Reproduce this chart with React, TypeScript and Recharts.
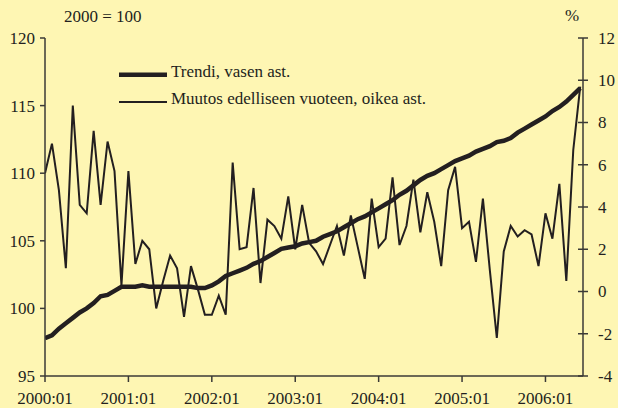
import { LineChart, Line, XAxis, YAxis, Legend } from "recharts"

const trend = [
  97.8, 98.0, 98.5, 98.9, 99.3, 99.7, 100.0, 100.4, 100.9, 101.0, 101.3, 101.6,
  101.6, 101.6, 101.7, 101.6, 101.6, 101.6, 101.6, 101.6, 101.6, 101.6, 101.5, 101.5,
  101.7, 102.0, 102.4, 102.6, 102.8, 103.0, 103.3, 103.5, 103.8, 104.1, 104.4, 104.5,
  104.6, 104.8, 104.9, 105.0, 105.3, 105.5, 105.7, 106.0, 106.3, 106.6, 106.8, 107.1,
  107.4, 107.7, 108.0, 108.4, 108.7, 109.1, 109.5, 109.8, 110.0, 110.3, 110.6, 110.9,
  111.1, 111.3, 111.6, 111.8, 112.0, 112.3, 112.4, 112.6, 113.0, 113.3, 113.6, 113.9,
  114.2, 114.6, 114.9, 115.3, 115.8, 116.3,
]

const change = [
  5.6, 7.0, 4.8, 1.1, 8.8, 4.1, 3.7, 7.6, 4.1, 7.1, 5.7, 0.3,
  5.7, 1.3, 2.4, 2.0, -0.8, 0.5, 1.7, 1.1, -1.2, 1.2, 0.1, -1.1,
  -1.1, -0.2, -1.1, 6.1, 2.0, 2.1, 4.9, 0.4, 3.4, 3.1, 2.5, 4.5,
  2.0, 4.1, 2.3, 1.9, 1.3, 2.2, 3.1, 1.7, 3.6, 2.1, 0.6, 4.4,
  2.1, 2.5, 5.4, 2.2, 3.1, 5.3, 2.8, 4.7, 3.3, 1.2, 4.8, 5.9,
  3.0, 3.3, 1.4, 4.4, 1.0, -2.2, 1.9, 3.1, 2.6, 2.9, 2.7, 1.2,
  3.7, 2.5, 5.1, 0.5, 6.7, 9.7,
]

const yearTicks = [0, 12, 24, 36, 48, 60, 72]
const yearLabels = ["2000:01", "2001:01", "2002:01", "2003:01", "2004:01", "2005:01", "2006:01"]
const leftTicks = [95, 100, 105, 110, 115, 120]
const rightTicks = [-4, -2, 0, 2, 4, 6, 8, 10, 12]

const data = trend.map((t, i) => ({ i, trend: t, change: change[i] }))

const INK = "#231f20"
const AXIS = "#3b3a36"
const BG = "#fef6b3"
const FONT = "'Liberation Serif', 'Times New Roman', serif"

const RightTick = (props: any) => {
  const { x, y, payload } = props
  return (
    <g>
      <line x1={x - 5} x2={x + 5} y1={y} y2={y} stroke={AXIS} strokeWidth={1.5} />
      <text x={x + 15} y={y} dy="0.35em" fontSize={17} fontFamily={FONT} fill={INK}>
        {payload.value}
      </text>
    </g>
  )
}

const renderLegend = () => (
  <svg width={340} height={50}>
    <line x1={0} x2={48} y1={14.7} y2={14.7} stroke={INK} strokeWidth={4.5} />
    <text x={52} y={17} fontSize={17} fontFamily={FONT} fill={INK}>Trendi, vasen ast.</text>
    <line x1={0} x2={48} y1={42} y2={42} stroke={INK} strokeWidth={2} />
    <text x={52} y={44} fontSize={17} fontFamily={FONT} fill={INK}>Muutos edelliseen vuoteen, oikea ast.</text>
  </svg>
)

export default function App() {
  return (
    <div style={{ position: "absolute", left: 0, top: 0, width: 618, height: 408, background: BG }}>
      <LineChart width={618} height={408} data={data} margin={{ top: 38, right: 0, bottom: 0, left: 0 }}>
        <XAxis
          dataKey="i"
          type="number"
          domain={[0, 77.4]}
          ticks={yearTicks}
          tickFormatter={(v: number) => yearLabels[yearTicks.indexOf(v)]}
          height={32}
          tickSize={6}
          tickMargin={10}
          stroke={AXIS}
          strokeWidth={1.5}
          tick={{ fontSize: 17, fontFamily: FONT, fill: INK }}
          allowDataOverflow
        />
        <YAxis
          yAxisId="left"
          domain={[95, 120]}
          ticks={leftTicks}
          width={45}
          tickSize={5}
          tickMargin={5}
          stroke={AXIS}
          strokeWidth={1.5}
          tick={{ fontSize: 17, fontFamily: FONT, fill: INK }}
          label={(p: any) => (
            <text x={64} y={22} fontSize={17} fontFamily={FONT} fill={INK}>2000 = 100</text>
          )}
        />
        <YAxis
          yAxisId="right"
          orientation="right"
          domain={[-4, 12]}
          ticks={rightTicks}
          width={35}
          tickSize={0}
          tickMargin={0}
          tickLine={false}
          stroke={AXIS}
          strokeWidth={1.5}
          tick={<RightTick />}
          label={(p: any) => (
            <text x={572} y={21} textAnchor="middle" fontSize={17} fontFamily={FONT} fill={INK}>%</text>
          )}
        />
        <Legend
          layout="vertical"
          align="center"
          verticalAlign="middle"
          content={renderLegend}
          wrapperStyle={{ position: "absolute", left: 119, top: 60, width: 340, height: 50 }}
        />
        <Line
          yAxisId="right"
          dataKey="change"
          type="linear"
          stroke={INK}
          strokeWidth={2}
          dot={false}
          isAnimationActive={false}
        />
        <Line
          yAxisId="left"
          dataKey="trend"
          type="linear"
          stroke={INK}
          strokeWidth={4.5}
          dot={false}
          isAnimationActive={false}
        />
      </LineChart>
    </div>
  )
}
